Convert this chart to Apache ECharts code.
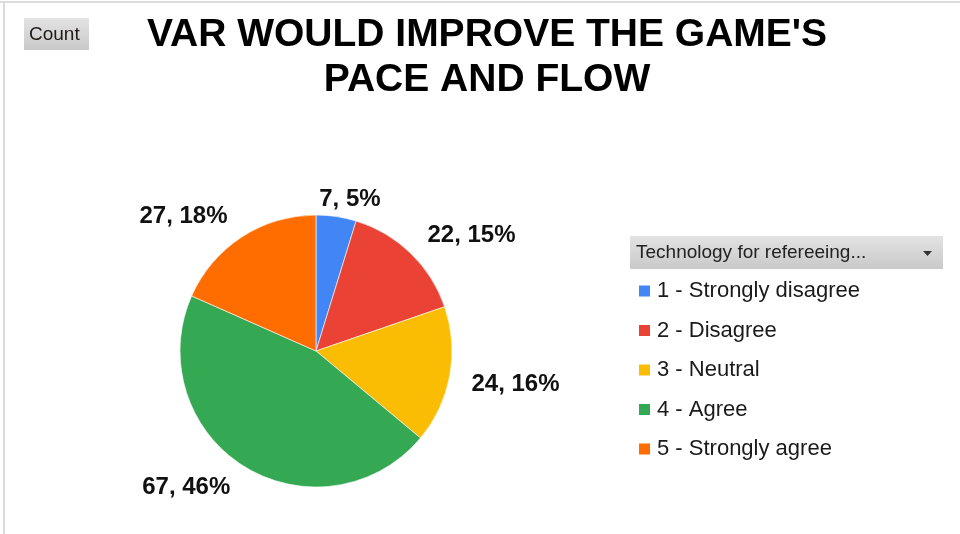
<!DOCTYPE html>
<html>
<head>
<meta charset="utf-8">
<script src="https://cdn.jsdelivr.net/npm/echarts@6/dist/echarts.min.js"></script>
<style>
  html, body { margin: 0; padding: 0; background: #fff; }
  #chart { width: 960px; height: 534px; }
</style>
</head>
<body>
<div id="chart"></div>
<script>
// Survey responses: "VAR would improve the game's pace and flow"
const categories = ['1 - Strongly disagree', '2 - Disagree', '3 - Neutral', '4 - Agree', '5 - Strongly agree'];
const counts = [7, 22, 24, 67, 27];
const sliceColors = ['#4285F4', '#EA4335', '#FBBC04', '#34A853', '#FF6D01'];
const titleLines = ["VAR WOULD IMPROVE THE GAME'S", 'PACE AND FLOW'];
const fieldButtonText = 'Count';
const legendHeaderText = 'Technology for refereeing...';

const FONT = '"Liberation Sans", Arial, sans-serif';
const total = counts.reduce((a, b) => a + b, 0);
const PIE_CX = 316, PIE_CY = 351;

const chart = echarts.init(document.getElementById('chart'), null, { renderer: 'canvas' });

const grayButton = {
  type: 'linear', x: 0, y: 0, x2: 0, y2: 1,
  colorStops: [{ offset: 0, color: '#e3e3e3' }, { offset: 1, color: '#c9c9c9' }]
};

chart.setOption({
  backgroundColor: '#ffffff',
  animation: false,
  title: {
    text: titleLines.join('\n'),
    left: 487,
    top: 13,
    padding: 0,
    textAlign: 'center',
    textStyle: {
      fontFamily: FONT,
      fontWeight: 'bold',
      fontSize: 39,
      lineHeight: 45,
      color: '#000'
    }
  },
  legend: {
    orient: 'vertical',
    left: 637,
    top: 280,
    padding: 0,
    icon: 'rect',
    itemWidth: 13,
    itemHeight: 13,
    itemGap: 17.5,
    selectedMode: false,
    textStyle: {
      fontFamily: FONT,
      fontSize: 22,
      lineHeight: 22,
      color: '#1a1a1a',
      padding: [0, 0, 0, 1]
    },
    data: categories
  },
  graphic: [
    // outer frame lines
    { type: 'rect', shape: { x: 0, y: 1, width: 960, height: 2 }, style: { fill: '#dcdcdc' }, silent: true },
    { type: 'rect', shape: { x: 3, y: 1, width: 2, height: 533 }, style: { fill: '#dcdcdc' }, silent: true },
    // field button
    { type: 'rect', shape: { x: 24, y: 18, width: 65, height: 32 }, style: { fill: grayButton }, silent: true },
    { type: 'text', x: 29, y: 35, style: { text: fieldButtonText, fontFamily: FONT, fontSize: 19, fill: '#1e1a14', verticalAlign: 'middle' }, silent: true },
    // legend header
    { type: 'rect', shape: { x: 630, y: 236, width: 313, height: 33 }, style: { fill: grayButton }, silent: true },
    { type: 'text', x: 636, y: 253, style: { text: legendHeaderText, fontFamily: FONT, fontSize: 19, fill: '#222', verticalAlign: 'middle' }, silent: true },
    { type: 'polygon', shape: { points: [[923, 251], [932, 251], [927.5, 256]] }, style: { fill: '#333' }, silent: true }
  ],
  series: [{
    type: 'pie',
    center: [PIE_CX, PIE_CY],
    radius: 136,
    startAngle: 90,
    clockwise: true,
    avoidLabelOverlap: false,
    itemStyle: { borderColor: '#ffffff', borderWidth: 0.6 },
    label: {
      show: true,
      position: 'outside',
      fontFamily: FONT,
      fontWeight: 'bold',
      fontSize: 24,
      color: '#111',
      formatter: p => p.value + ', ' + Math.round(p.value / total * 100) + '%'
    },
    labelLine: { show: false, length: 17, length2: 0 },
    // labels sitting almost straight above the pie are centred over their slice;
    // the others are nudged a little further away from the pie vertically
    labelLayout: params => {
      const r = params.labelRect;
      if (r.y + r.height < PIE_CY - 100 && Math.abs(r.x - PIE_CX) < 40) {
        return { dx: -r.width * 0.4 };
      }
      const midY = r.y + r.height / 2;
      return { dy: midY > PIE_CY ? 6 : -6 };
    },
    data: categories.map((name, i) => ({
      name,
      value: counts[i],
      itemStyle: { color: sliceColors[i] }
    }))
  }]
});
</script>
</body>
</html>
